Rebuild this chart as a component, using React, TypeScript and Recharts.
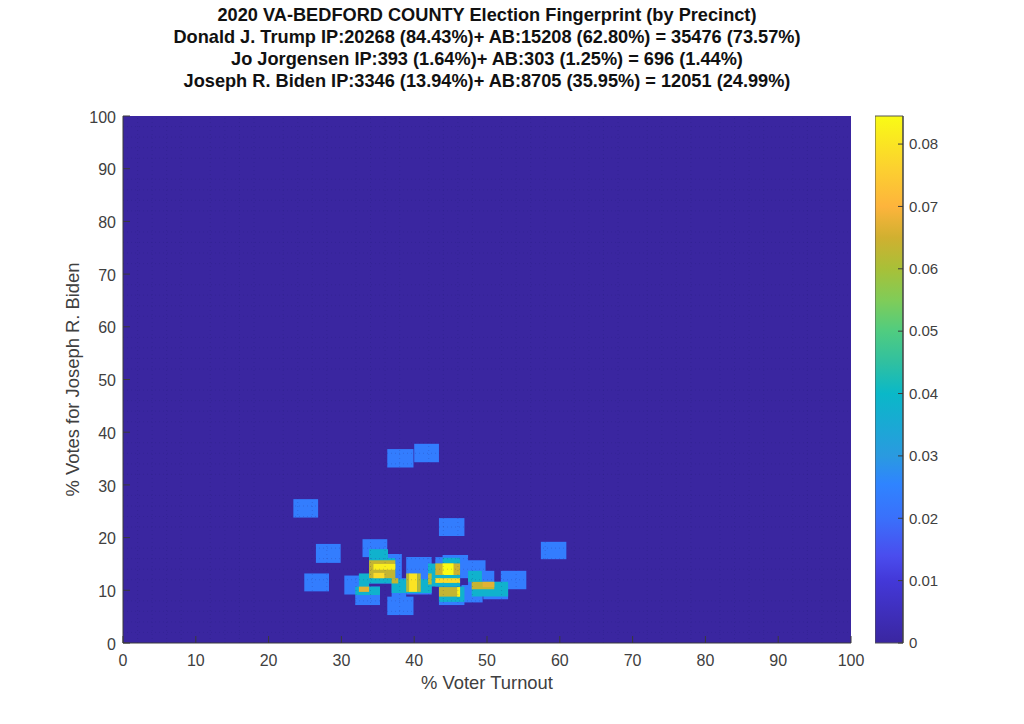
import {
  Bar,
  ComposedChart,
  Label,
  ReferenceArea,
  ReferenceLine,
  XAxis,
  YAxis,
} from "recharts";

const titleLines = [
  "2020 VA-BEDFORD COUNTY Election Fingerprint (by Precinct)",
  "Donald J. Trump IP:20268 (84.43%)+ AB:15208 (62.80%) = 35476 (73.57%)",
  "Jo Jorgensen IP:393 (1.64%)+ AB:303 (1.25%) = 696 (1.44%)",
  "Joseph R. Biden IP:3346 (13.94%)+ AB:8705 (35.95%) = 12051 (24.99%)",
];

const axisTicks = [0, 10, 20, 30, 40, 50, 60, 70, 80, 90, 100];
const barTicks = [0, 0.01, 0.02, 0.03, 0.04, 0.05, 0.06, 0.07, 0.08];
const binLines = [2, 4, 6, 8, 12, 14, 16, 18, 22, 24, 26, 28, 32, 34, 36, 38, 42, 44, 46, 48, 52, 54, 56, 58, 62, 64, 66, 68, 72, 74, 76, 78, 82, 84, 86, 88, 92, 94, 96, 98];
const barMax = 0.0845;

// [x1, x2, y1, y2, density], painted in order
type Cell = [number, number, number, number, number];

const background: Cell[] = [[0, 100, 0, 100, 0]];

const singlePrecincts: Cell[] = [
  [36.3, 39.9, 33.3, 36.8, 0.0235],
  [40.0, 43.4, 34.3, 37.8, 0.0235],
  [23.4, 26.8, 23.8, 27.3, 0.0235],
  [26.5, 29.9, 15.2, 18.8, 0.0235],
  [24.9, 28.3, 9.8, 13.2, 0.0235],
  [43.4, 46.9, 20.3, 23.7, 0.0235],
  [57.4, 60.9, 15.9, 19.2, 0.0235],
  [32.9, 36.3, 16.3, 19.7, 0.0235],
  [30.4, 33.8, 9.2, 12.8, 0.0235],
  [31.9, 35.3, 7.2, 10.7, 0.0235],
  [36.3, 39.9, 5.3, 8.8, 0.0235],
  [38.9, 42.4, 9.2, 16.3, 0.0235],
  [51.9, 55.4, 10.2, 13.7, 0.0235],
  [43.9, 47.4, 13.2, 16.7, 0.0235],
  [46.3, 49.8, 12.3, 15.7, 0.0235],
  [47.4, 51.0, 10.2, 13.7, 0.0235],
  [49.5, 52.9, 8.3, 11.6, 0.0235],
  [46.5, 49.4, 7.7, 11.0, 0.0235],
  [43.4, 46.9, 7.2, 10.7, 0.0235],
  [42.9, 46.3, 10.7, 16.3, 0.0235],
  [36.9, 38.9, 8.7, 12.3, 0.0235],
  [33.8, 38.3, 11.3, 16.9, 0.0235],
];

const doubleOverlaps: Cell[] = [
  [33.8, 36.4, 16.1, 17.8, 0.038],
  [33.8, 37.4, 11.3, 16.1, 0.038],
  [32.4, 33.8, 9.1, 13.2, 0.038],
  [31.9, 35.3, 9.1, 10.7, 0.038],
  [36.9, 42.4, 9.5, 12.1, 0.038],
  [41.9, 46.3, 10.7, 15.1, 0.038],
  [43.9, 46.3, 15.1, 16.2, 0.038],
  [43.4, 46.3, 7.8, 10.7, 0.038],
  [46.3, 46.9, 7.8, 10.7, 0.038],
  [47.4, 49.3, 11.6, 13.7, 0.038],
  [47.9, 52.9, 8.8, 11.6, 0.038],
];

const tripleOverlaps: Cell[] = [
  [33.8, 37.4, 12.3, 15.7, 0.0635],
  [36.9, 37.8, 11.3, 12.3, 0.0635],
  [32.4, 33.8, 9.7, 10.7, 0.067],
  [38.9, 39.4, 9.7, 13.2, 0.062],
  [39.3, 40.4, 9.7, 13.2, 0.08],
  [40.4, 40.9, 9.7, 13.2, 0.062],
  [41.9, 42.4, 11.1, 13.2, 0.062],
  [42.9, 46.3, 12.9, 15.1, 0.0645],
  [42.9, 46.3, 11.4, 12.3, 0.078],
  [43.4, 46.3, 8.8, 10.6, 0.0635],
  [47.9, 51.0, 10.2, 11.6, 0.0635],
];

const peakCells: Cell[] = [
  [34.4, 37.4, 13.9, 15.0, 0.082],
  [34.4, 35.9, 12.3, 13.3, 0.078],
  [43.9, 45.4, 12.9, 15.1, 0.0845],
  [45.9, 46.3, 8.8, 10.6, 0.083],
  [49.4, 51.0, 10.6, 11.6, 0.067],
];

const cells = [...background, ...singlePrecincts, ...doubleOverlaps, ...tripleOverlaps, ...peakCells];

// colorbar swatches
const mapValues = [0, 0.01, 0.014, 0.02, 0.0255, 0.03, 0.04, 0.045, 0.05, 0.055, 0.06, 0.065, 0.07, 0.076, 0.0845];
const mapColors = ["#3a26a0", "#4338d8", "#4a4dee", "#3a70fb", "#2f84ff", "#2a9ae0", "#0ab8c8", "#30c0a0", "#50cc80", "#80cc58", "#a8c038", "#d0b030", "#fdb43c", "#fcd030", "#f9fb15"];

const colorbar = [{ name: "density", top: barMax }];

function toRgb(hex: string) {
  return [1, 3, 5].map((i) => parseInt(hex.slice(i, i + 2), 16));
}

function colorFor(v: number) {
  let i = 0;
  while (i < mapValues.length - 2 && v > mapValues[i + 1]) i++;
  const t = Math.min(1, (v - mapValues[i]) / (mapValues[i + 1] - mapValues[i]));
  const a = toRgb(mapColors[i]);
  const b = toRgb(mapColors[i + 1]);
  return `rgb(${a.map((c, k) => Math.round(c + (b[k] - c) * t)).join(",")})`;
}

const font = "'Liberation Sans', Arial, sans-serif";
const tickStyle = { fontSize: 16, fill: "#404040", fontFamily: font };
const barTickStyle = { fontSize: 15, fill: "#404040", fontFamily: font };
const labelStyle = { fontSize: 18.4, fill: "#404040", fontFamily: font };
const axisColor = "#3a3a3a";

export default function App() {
  return (
    <div style={{ position: "absolute", left: 0, top: 0, width: 1024, height: 724, background: "#fff", overflow: "hidden" }}>
      <div
        style={{
          position: "absolute",
          left: 87,
          width: 800,
          top: 4,
          textAlign: "center",
          fontFamily: font,
          fontWeight: "bold",
          fontSize: 18.2,
          lineHeight: "22px",
          color: "#111",
          whiteSpace: "nowrap",
        }}
      >
        {titleLines.map((t) => (
          <div key={t}>{t}</div>
        ))}
      </div>

      <div style={{ position: "absolute", left: 0, top: 0 }}>
        <ComposedChart width={1024} height={724} margin={{ top: 116, right: 173, left: 63, bottom: 41 }}>
          <XAxis
            xAxisId="b"
            type="number"
            dataKey="x"
            domain={[0, 100]}
            ticks={axisTicks}
            interval={0}
            height={40}
            allowDataOverflow
            tick={tickStyle}
            tickSize={-7}
            tickMargin={19}
            stroke={axisColor}
          >
            <Label value="% Voter Turnout" position="insideBottom" offset={-6} style={labelStyle} />
          </XAxis>
          <XAxis
            xAxisId="t"
            orientation="top"
            type="number"
            domain={[0, 100]}
            ticks={axisTicks}
            interval={0}
            height={0}
            tickFormatter={() => ""}
            tickSize={-7}
            stroke={axisColor}
          />
          <YAxis
            yAxisId="l"
            type="number"
            dataKey="y"
            domain={[0, 100]}
            ticks={axisTicks}
            interval={0}
            width={60}
            allowDataOverflow
            tick={{ ...tickStyle, dy: 1 }}
            tickSize={-7}
            tickMargin={14}
            stroke={axisColor}
          >
            <Label value="% Votes for Joseph R. Biden" angle={-90} position="insideLeft" offset={9} style={{ ...labelStyle, textAnchor: "middle" }} />
          </YAxis>
          <YAxis
            yAxisId="r"
            orientation="right"
            type="number"
            domain={[0, 100]}
            ticks={axisTicks}
            interval={0}
            width={0}
            tickFormatter={() => ""}
            tickSize={-7}
            stroke={axisColor}
          />
          {cells.map(([x1, x2, y1, y2, v], i) => (
            <ReferenceArea
              key={i}
              xAxisId="b"
              yAxisId="l"
              x1={x1}
              x2={x2}
              y1={y1}
              y2={y2}
              fill={colorFor(v)}
              fillOpacity={1}
              stroke="none"
            />
          ))}
          {binLines.map((v) => (
            <ReferenceLine key={`v${v}`} xAxisId="b" yAxisId="l" x={v} stroke="#1c1c70" strokeOpacity={0.2} strokeDasharray="1 3" />
          ))}
          {binLines.map((v) => (
            <ReferenceLine key={`h${v}`} xAxisId="b" yAxisId="l" y={v} stroke="#1c1c70" strokeOpacity={0.2} strokeDasharray="1 3" />
          ))}
        </ComposedChart>
      </div>

      <div style={{ position: "absolute", left: 875, top: 0 }}>
        <ComposedChart width={88} height={724} data={colorbar} margin={{ top: 116, right: 0, left: 0, bottom: 81 }} barCategoryGap={0}>
          <defs>
            <linearGradient id="parula" x1="0" y1="1" x2="0" y2="0">
              {mapValues.map((v, i) => (
                <stop key={v} offset={v / barMax} stopColor={mapColors[i]} />
              ))}
            </linearGradient>
          </defs>
          <XAxis dataKey="name" hide />
          <YAxis
            orientation="right"
            type="number"
            domain={[0, barMax]}
            ticks={barTicks}
            interval={0}
            width={60}
            tick={barTickStyle}
            tickSize={-5}
            tickMargin={11}
            tickFormatter={(v) => String(v)}
            stroke={axisColor}
          />
          <Bar dataKey="top" fill="url(#parula)" stroke="#555" isAnimationActive={false} />
        </ComposedChart>
      </div>
    </div>
  );
}
